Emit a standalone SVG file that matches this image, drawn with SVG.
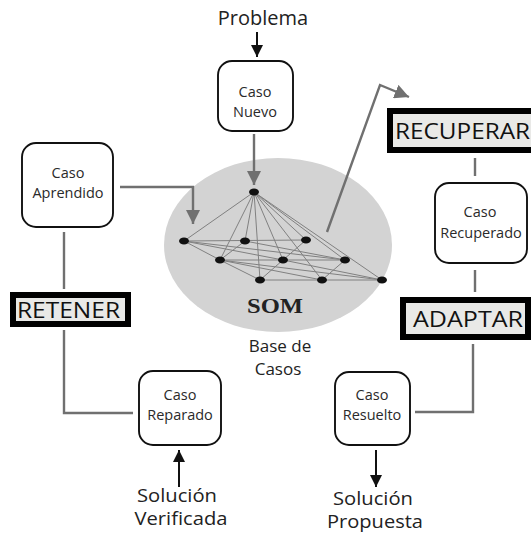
<svg xmlns="http://www.w3.org/2000/svg" width="531" height="534" viewBox="0 0 531 534">
  <style>
    .lbl { font-family: "Open Sans", "Liberation Sans", sans-serif; fill: #222; }
    .case rect { fill: #fff; stroke: #111; stroke-width: 1.9; }
    .case text { font-family: "Open Sans", "Liberation Sans", sans-serif; font-size: 14.5px; fill: #2a2a2a; text-anchor: middle; }
    .step rect { fill: #e9e9e7; stroke: #000; stroke-width: 6; }
    .step text { font-family: "Open Sans", "Liberation Sans", sans-serif; font-size: 22px; fill: #111; }
    .gray { fill: none; stroke: #707070; stroke-width: 2.4; }
    .black { fill: none; stroke: #111; stroke-width: 2; }
    .net line { stroke: #808080; stroke-width: 1; }
    .net ellipse { fill: #111; }
  </style>
  <defs>
    <marker id="grayHead" viewBox="0 0 10 10" refX="10" refY="5" markerWidth="6" markerHeight="6" markerUnits="strokeWidth" orient="auto">
      <path d="M0,0 L10,5 L0,10 Z" fill="#707070"/>
    </marker>
    <marker id="blackHead" viewBox="0 0 10 10" refX="10" refY="5" markerWidth="6" markerHeight="6" markerUnits="strokeWidth" orient="auto">
      <path d="M0,0 L10,5 L0,10 Z" fill="#111"/>
    </marker>
  </defs>

  <rect width="531" height="534" fill="#fff"/>

  <!-- case base: SOM ellipse with lattice -->
  <g id="som">
    <ellipse cx="278" cy="245" rx="114" ry="87" fill="#d3d3d3"/>
    <g class="net">
      <line x1="254" y1="192" x2="184" y2="241"/>
      <line x1="254" y1="192" x2="245" y2="241"/>
      <line x1="254" y1="192" x2="306" y2="240"/>
      <line x1="254" y1="192" x2="220" y2="260"/>
      <line x1="254" y1="192" x2="283" y2="260"/>
      <line x1="254" y1="192" x2="345" y2="260"/>
      <line x1="254" y1="192" x2="260" y2="280"/>
      <line x1="254" y1="192" x2="322" y2="280"/>
      <line x1="254" y1="192" x2="382" y2="280"/>
      <line x1="184" y1="241" x2="306" y2="240"/>
      <line x1="220" y1="260" x2="345" y2="260"/>
      <line x1="260" y1="280" x2="382" y2="280"/>
      <line x1="184" y1="241" x2="220" y2="260"/>
      <line x1="245" y1="241" x2="220" y2="260"/>
      <line x1="306" y1="240" x2="283" y2="260"/>
      <line x1="283" y1="260" x2="260" y2="280"/>
      <line x1="345" y1="260" x2="322" y2="280"/>
      <line x1="184" y1="241" x2="283" y2="260"/>
      <line x1="184" y1="241" x2="345" y2="260"/>
      <line x1="245" y1="241" x2="345" y2="260"/>
      <line x1="220" y1="260" x2="322" y2="280"/>
      <line x1="220" y1="260" x2="382" y2="280"/>
      <line x1="283" y1="260" x2="382" y2="280"/>
      <line x1="220" y1="260" x2="260" y2="280"/>
      <ellipse cx="254" cy="192" rx="5" ry="3.5"/>
      <ellipse cx="184" cy="241" rx="5" ry="3.5"/>
      <ellipse cx="245" cy="241" rx="5" ry="3.5"/>
      <ellipse cx="306" cy="240" rx="5" ry="3.5"/>
      <ellipse cx="220" cy="260" rx="5" ry="3.5"/>
      <ellipse cx="283" cy="260" rx="5" ry="3.5"/>
      <ellipse cx="345" cy="260" rx="5" ry="3.5"/>
      <ellipse cx="260" cy="280" rx="5" ry="3.5"/>
      <ellipse cx="322" cy="280" rx="5" ry="3.5"/>
      <ellipse cx="382" cy="280" rx="5" ry="3.5"/>
    </g>
    <text x="275" y="313" font-family="'Liberation Serif', serif" font-weight="bold" font-size="21" text-anchor="middle" textLength="56" lengthAdjust="spacingAndGlyphs" fill="#222">SOM</text>
    <text class="lbl" x="280" y="352" font-size="17" text-anchor="middle">Base de</text>
    <text class="lbl" x="278" y="375" font-size="17" text-anchor="middle">Casos</text>
  </g>

  <!-- connectors -->
  <g id="connectors">
    <line class="black" x1="257" y1="32" x2="257" y2="57" marker-end="url(#blackHead)"/>
    <line class="gray" x1="254" y1="134" x2="254" y2="185" marker-end="url(#grayHead)"/>
    <polyline class="gray" points="120,187 193,187 193,224" marker-end="url(#grayHead)"/>
    <polyline class="gray" points="327,232 380,85 409,97" marker-end="url(#grayHead)"/>
    <line class="gray" x1="475" y1="158" x2="475" y2="176"/>
    <line class="gray" x1="475" y1="270" x2="475" y2="292"/>
    <polyline class="gray" points="473,344 473,412 415,412"/>
    <line class="black" x1="376" y1="450" x2="376" y2="487" marker-end="url(#blackHead)"/>
    <line class="gray" x1="64" y1="232" x2="64" y2="289"/>
    <polyline class="gray" points="64,330 64,413 133,413"/>
    <line class="black" x1="179" y1="487" x2="179" y2="450" marker-end="url(#blackHead)"/>
  </g>

  <!-- free labels -->
  <text class="lbl" x="263" y="25" font-size="20" text-anchor="middle">Problema</text>
  <text class="lbl" x="177" y="502" font-size="18.5" text-anchor="middle" textLength="80" lengthAdjust="spacingAndGlyphs">Solución</text>
  <text class="lbl" x="181" y="525" font-size="18.5" text-anchor="middle" textLength="93" lengthAdjust="spacingAndGlyphs">Verificada</text>
  <text class="lbl" x="373" y="505" font-size="18.5" text-anchor="middle" textLength="80" lengthAdjust="spacingAndGlyphs">Solución</text>
  <text class="lbl" x="375" y="528" font-size="18.5" text-anchor="middle" textLength="96" lengthAdjust="spacingAndGlyphs">Propuesta</text>

  <!-- case nodes -->
  <g id="caso-nuevo" class="case">
    <rect x="218" y="61" width="75" height="70" rx="14"/>
    <text x="255" y="97">Caso</text>
    <text x="255" y="117">Nuevo</text>
  </g>
  <g id="caso-aprendido" class="case">
    <rect x="22" y="143" width="91" height="84" rx="14"/>
    <text x="68" y="178">Caso</text>
    <text x="68" y="198">Aprendido</text>
  </g>
  <g id="caso-recuperado" class="case">
    <rect x="435" y="183" width="92" height="80" rx="14"/>
    <text x="480" y="217">Caso</text>
    <text x="481" y="238">Recuperado</text>
  </g>
  <g id="caso-reparado" class="case">
    <rect x="139" y="371" width="82" height="74" rx="14"/>
    <text x="180" y="400">Caso</text>
    <text x="180" y="420">Reparado</text>
  </g>
  <g id="caso-resuelto" class="case">
    <rect x="335" y="372" width="75" height="73" rx="14"/>
    <text x="372" y="400">Caso</text>
    <text x="372" y="420">Resuelto</text>
  </g>

  <!-- process steps -->
  <g id="retener" class="step">
    <rect x="13" y="295" width="115" height="29"/>
    <text x="17" y="318" textLength="103" lengthAdjust="spacingAndGlyphs">RETENER</text>
  </g>
  <g id="recuperar" class="step">
    <rect x="390" y="111" width="150" height="39"/>
    <text x="395" y="139" textLength="135" lengthAdjust="spacingAndGlyphs">RECUPERAR</text>
  </g>
  <g id="adaptar" class="step">
    <rect x="403" y="300" width="125" height="37"/>
    <text x="413" y="327" textLength="110" lengthAdjust="spacingAndGlyphs">ADAPTAR</text>
  </g>
</svg>
